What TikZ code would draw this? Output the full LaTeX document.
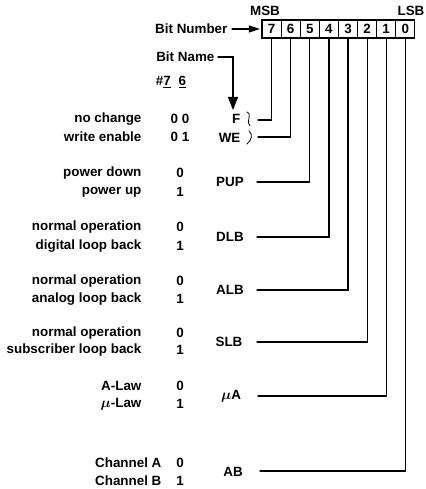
\documentclass[tikz,border=0pt]{standalone}
\usepackage{amsmath}
\usepackage{bm}
\usepackage{fontspec}
\setmainfont{Liberation Sans}
\usepackage{tikz}
\usetikzlibrary{arrows.meta}

\tikzset{
	bitbox/.style={draw,line width=1.2pt,minimum width=19.1pt,minimum height=18pt,inner sep=0pt},
	txt/.style={inner sep=0pt},
	rowlabel/.style={inner sep=0pt,anchor=east},
	bitname/.style={inner sep=0pt}
}

\begin{document}
\begin{tikzpicture}[
				x=1pt,y=-1pt,
				line cap=round,
				line join=miter,
				line width=1.2pt,
				font=\fontsize{13.4}{15}\selectfont\bfseries
				]
				\useasboundingbox (0,0) rectangle (425,489);
				
				% Register boxes
				\node[bitbox] (b7) at (271.6,29) {7};
				\node[bitbox] (b6) at (290.7,29) {6};
				\node[bitbox] (b5) at (309.8,29) {5};
				\node[bitbox] (b4) at (328.9,29) {4};
				\node[bitbox] (b3) at (348.0,29) {3};
				\node[bitbox] (b2) at (367.1,29) {2};
				\node[bitbox] (b1) at (386.2,29) {1};
				\node[bitbox] (b0) at (405.3,29) {0};
				\node[txt] (msb) at (265,11) {MSB};
				\node[txt,anchor=east] (lsb) at (425,11) {LSB};
				
				% Headings
				\node[txt,anchor=east] (bitnum) at (228,29) {Bit Number};
				\draw[-{Triangle[length=11pt,width=7pt]},shorten <=4pt,shorten >=1.5pt] (bitnum.east) -- (b7.west);
				\node[txt,anchor=east] (bitnm) at (215,57) {Bit Name};
				\coordinate (tipnm) at (233,110);
				\draw[-{Triangle[length=13pt,width=10pt]},shorten <=3pt] (bitnm.east) -| (tipnm);
				\node[txt] (hdr) at (171,82) {\#\underline{7}\hspace{8pt}\underline{6}};
				
				% Bits 7 and 6
				\node[rowlabel] (nochg) at (142,119) {no change};
				\node[rowlabel] (wren) at (142,137) {write enable};
				\node[txt] (v76a) at (180,119) {0 0};
				\node[txt] (v76b) at (180,137) {0 1};
				\node[bitname,anchor=east] (F) at (241,119) {F};
				\node[bitname,anchor=east] (WE) at (241,138) {WE};
				\draw[line width=0.8pt] (247,112) .. controls (253,115) and (245,122) .. (250,126);
				\draw[line width=0.8pt] (249,131) .. controls (253,134) and (252,140) .. (247,144);
				\coordinate (eF) at (258,120);
				\coordinate (eWE) at (258,137);
				\draw (b7.south) |- (eF);
				\draw (b6.south) |- (eWE);
				
				% Bit 5
				\node[rowlabel] (pdown) at (142,173) {power down};
				\node[rowlabel] (pup) at (142,192) {power up};
				\node[txt] (v5a) at (180,173) {0};
				\node[txt] (v5b) at (180,192) {1};
				\node[bitname] (PUP) at (230,182) {PUP};
				\coordinate (ePUP) at (257,182);
				\draw (b5.south) |- (ePUP);
				
				% Bit 4
				\node[rowlabel] (norm4) at (142,227) {normal operation};
				\node[rowlabel] (dlb) at (142,246) {digital loop back};
				\node[txt] (v4a) at (180,227) {0};
				\node[txt] (v4b) at (180,246) {1};
				\node[bitname] (DLB) at (230,237) {DLB};
				\coordinate (eDLB) at (257,237);
				\draw (b4.south) |- (eDLB);
				
				% Bit 3
				\node[rowlabel] (norm3) at (142,281) {normal operation};
				\node[rowlabel] (alb) at (142,299) {analog loop back};
				\node[txt] (v3a) at (180,281) {0};
				\node[txt] (v3b) at (180,299) {1};
				\node[bitname] (ALB) at (230,290) {ALB};
				\coordinate (eALB) at (257,290);
				\draw (b3.south) |- (eALB);
				
				% Bit 2
				\node[rowlabel] (norm2) at (142,333) {normal operation};
				\node[rowlabel] (slb) at (142,350) {subscriber loop back};
				\node[txt] (v2a) at (180,333) {0};
				\node[txt] (v2b) at (180,350) {1};
				\node[bitname] (SLB) at (229,342) {SLB};
				\coordinate (eSLB) at (257,342);
				\draw (b2.south) |- (eSLB);
				
				% Bit 1
				\node[rowlabel] (alaw) at (142,386) {A-Law};
				\node[rowlabel] (mulaw) at (142,404) {$\bm{\mu}$-Law};
				\node[txt] (v1a) at (180,386) {0};
				\node[txt] (v1b) at (180,404) {1};
				\node[bitname] (MUA) at (231,396) {$\bm{\mu}$A};
				\coordinate (eMUA) at (258,396);
				\draw (b1.south) |- (eMUA);
				
				% Bit 0
				\node[rowlabel] (chA) at (162,463) {Channel A};
				\node[rowlabel] (chB) at (162,481) {Channel B};
				\node[txt] (v0a) at (180,463) {0};
				\node[txt] (v0b) at (180,481) {1};
				\node[bitname] (AB) at (233,472) {AB};
				\coordinate (eAB) at (260,471);
				\draw (b0.south) |- (eAB);
			\end{tikzpicture}
\end{document}
